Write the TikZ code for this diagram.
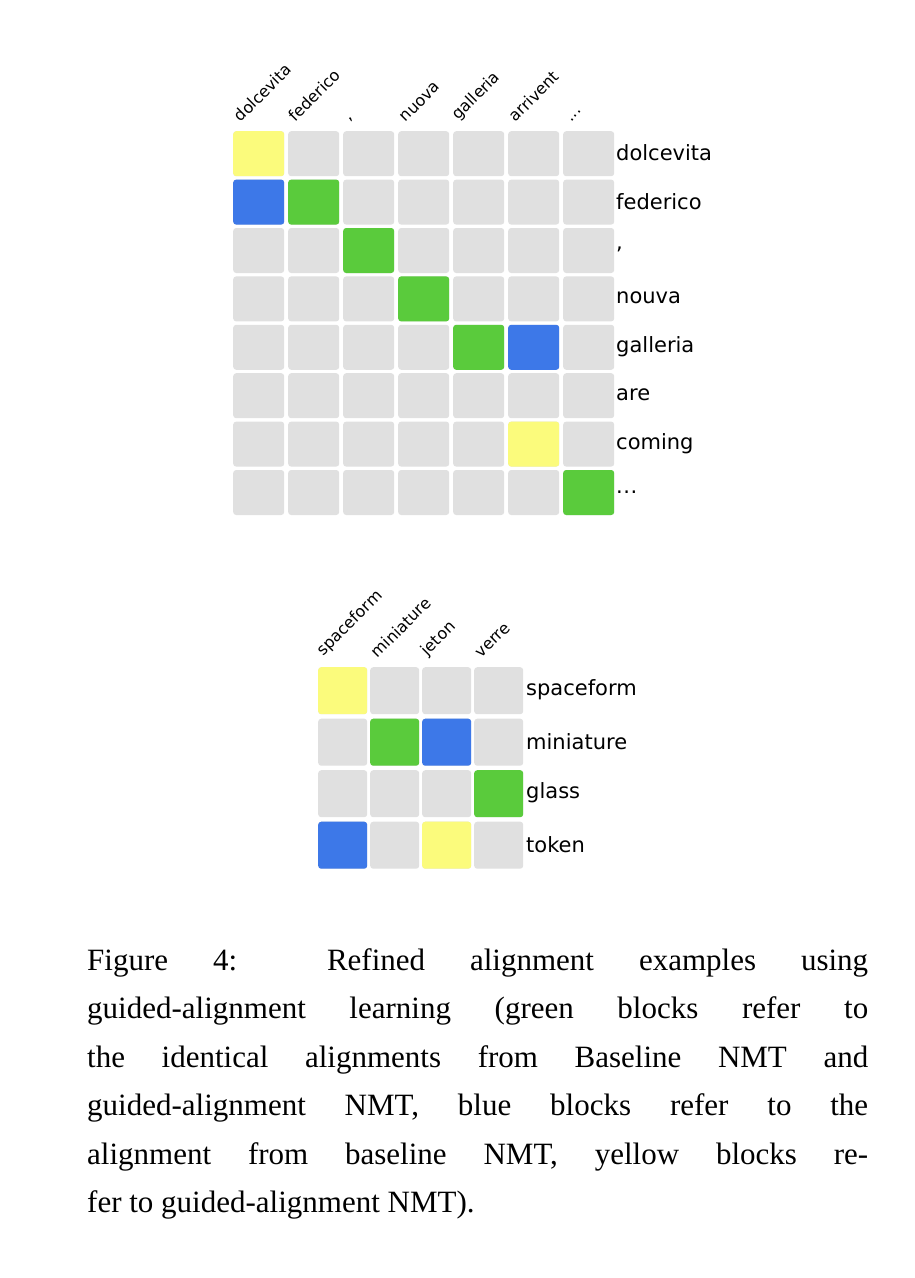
\documentclass[tikz,border=0pt]{standalone}
\usepackage{fontspec}
\setmainfont{Liberation Serif}
\newfontfamily\lab{DejaVu Sans}
\definecolor{cg}{HTML}{E0E0E0}
\definecolor{cy}{HTML}{FBFB7C}
\definecolor{cb}{HTML}{3D78E8}
\definecolor{cgr}{HTML}{5ACB3C}
\newcommand\dotsx{.\kern0.5pt.\kern0.5pt.}
\begin{document}
\begin{tikzpicture}[x=1pt,y=-1pt,
  cellA/.style={rounded corners=3pt,minimum width=51pt,minimum height=45pt,inner sep=0pt,anchor=north west},
  cellB/.style={rounded corners=3pt,minimum width=49pt,minimum height=47pt,inner sep=0pt,anchor=north west},
  rowlab/.style={anchor=west,inner sep=0pt,font=\lab\fontsize{21}{24}\selectfont},
  collab/.style={anchor=south west,rotate=45,inner sep=0pt,font=\lab\fontsize{16}{18}\selectfont},
  captext/.style={anchor=north west,inner sep=0pt,font=\fontsize{31}{48.5}\selectfont,align=left}]
\useasboundingbox[fill=white] (0,0) rectangle (914,1278);
% top grid
\foreach \r in {1,2,3,4,5,6,7,8}{\foreach \c in {1,2,3,4,5,6,7}{
  \node[cellA,fill=cg] (a\r\c) at ({233+55*(\c-1)},{131+48.4*(\r-1)}) {};}}
\foreach \r/\c/\k in {1/1/cy,2/1/cb,2/2/cgr,3/3/cgr,4/4/cgr,5/5/cgr,5/6/cb,7/6/cy,8/7/cgr}{
  \node[cellA,fill=\k] (ah\r\c) at ({233+55*(\c-1)},{131+48.4*(\r-1)}) {};}
\foreach \t [count=\r] in {dolcevita,federico,{,},nouva,galleria,are,coming,{\dotsx}}{
  \node[rowlab] (ar\r) at (616,{153+48.4*(\r-1)}) {\t};}
\foreach \t [count=\c] in {dolcevita,federico,{,},nuova,galleria,arrivent,{\dotsx}}{
  \node[collab] (ac\c) at ({241+55*(\c-1)},123) {\t};}
% bottom grid
\foreach \r in {1,2,3,4}{\foreach \c in {1,2,3,4}{
  \node[cellB,fill=cg] (b\r\c) at ({318+52*(\c-1)},{667+51.5*(\r-1)}) {};}}
\foreach \r/\c/\k in {1/1/cy,2/2/cgr,2/3/cb,3/4/cgr,4/1/cb,4/3/cy}{
  \node[cellB,fill=\k] (bh\r\c) at ({318+52*(\c-1)},{667+51.5*(\r-1)}) {};}
\foreach \t [count=\r] in {spaceform,miniature,glass,token}{
  \node[rowlab] (br\r) at (526,{690+51.5*(\r-1)}) {\t};}
\foreach \t [count=\c] in {spaceform,miniature,jeton,verre}{
  \node[collab] (bc\c) at ({326+52*(\c-1)},659) {\t};}
% caption
\node[captext] (caption) at (87,948) {%
\hbox to 781pt{Figure 4:\ \ Refined alignment examples using}\\
\hbox to 781pt{guided-alignment learning (green blocks refer to}\\
\hbox to 781pt{the identical alignments from Baseline NMT and}\\
\hbox to 781pt{guided-alignment NMT, blue blocks refer to the}\\
\hbox to 781pt{alignment from baseline NMT, yellow blocks re-}\\
fer to guided-alignment NMT).};
\end{tikzpicture}
\end{document}
